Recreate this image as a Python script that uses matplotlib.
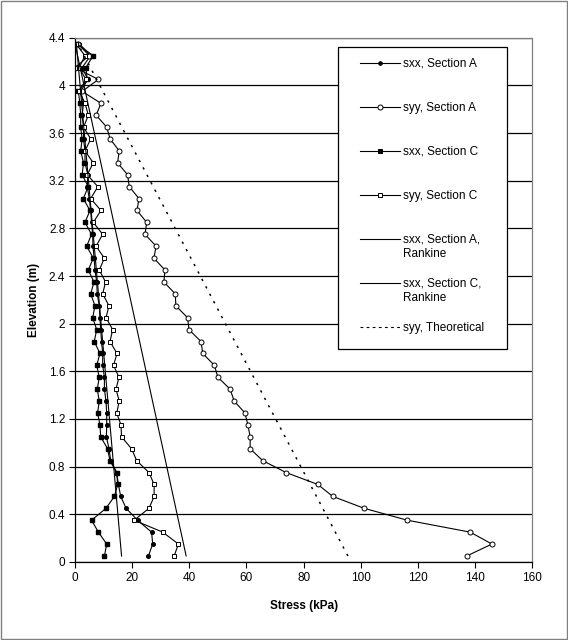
import numpy as np
import matplotlib
matplotlib.use('Agg')
import matplotlib.pyplot as plt
from matplotlib.patches import Rectangle

plt.rcParams['font.family'] = ['Liberation Sans', 'DejaVu Sans']

# elevations of the measuring points (m)
elev = [0.05, 0.15, 0.25, 0.35, 0.45, 0.55, 0.65, 0.75, 0.85, 0.95,
        1.05, 1.15, 1.25, 1.35, 1.45, 1.55, 1.65, 1.75, 1.85, 1.95,
        2.05, 2.15, 2.25, 2.35, 2.45, 2.55, 2.65, 2.75, 2.85, 2.95,
        3.05, 3.15, 3.25, 3.35, 3.45, 3.55, 3.65, 3.75, 3.85, 3.95,
        4.05, 4.15, 4.25, 4.35]

sxx_A = [25.7, 27.2, 26.8, 21.9, 17.9, 16.0, 15.2, 14.6, 12.5, 11.9,
         11.0, 11.1, 11.1, 10.85, 10.3, 10.3, 9.7, 9.7, 9.3, 9.0,
         8.75, 8.5, 7.8, 7.6, 7.0, 6.7, 6.3, 6.2, 5.8, 5.5,
         5.0, 4.3, 4.5, 3.5, 3.5, 3.0, 3.0, 2.5, 3.0, 2.0,
         4.5, 2.5, 5.5, 1.5]

syy_A = [137.1, 145.9, 138.3, 116.3, 101.2, 90.2, 85.0, 73.9, 65.7, 61.3,
         61.3, 60.5, 59.5, 55.7, 54.3, 50.0, 48.8, 44.7, 44.1, 39.9,
         39.4, 35.3, 35.1, 31.1, 31.5, 27.6, 28.4, 24.5, 25.1, 21.7,
         22.4, 19.0, 18.4, 14.9, 15.5, 12.3, 11.1, 7.4, 9.1, 2.5,
         8.2, 0.0, 5.0, 1.0]

sxx_C = [10.3, 11.1, 8.2, 5.8, 10.85, 13.8, 14.95, 14.6, 12.25, 11.4,
         9.0, 8.75, 7.9, 8.5, 7.8, 8.5, 7.6, 8.75, 6.75, 7.6,
         6.2, 7.0, 5.5, 6.65, 4.65, 6.4, 4.1, 5.8, 3.5, 5.25,
         2.9, 4.65, 2.5, 3.0, 2.0, 2.5, 2.0, 2.0, 1.7, 1.2,
         4.3, 3.8, 6.4, 0.5]

syy_C = [34.7, 36.2, 30.7, 20.7, 25.9, 27.7, 27.7, 25.9, 21.6, 19.8,
         16.3, 16.1, 14.6, 15.5, 14.35, 15.4, 13.5, 14.7, 12.25, 13.2,
         10.85, 11.9, 9.7, 10.7, 8.5, 10.3, 7.35, 9.7, 6.4, 9.1,
         5.5, 8.0, 4.3, 6.4, 3.5, 5.5, 3.0, 4.7, 3.5, 1.5,
         3.8, 1.5, 3.5, 0.3]

# straight lines (end points)
line_elev = [0.05, 4.35]
rankine_A = [16.3, 0.5]
rankine_C = [38.9, 0.0]
syy_theo = [95.5, 1.0]

labels = ['sxx, Section A', 'syy, Section A', 'sxx, Section C', 'syy, Section C',
          'sxx, Section A,\nRankine', 'sxx, Section C,\nRankine', 'syy, Theoretical']

lw = 0.8
styles = [
    dict(ls='-', marker='o', ms=2.6, mfc='black', mec='black'),
    dict(ls='-', marker='o', ms=3.6, mfc='white', mec='black', mew=0.7),
    dict(ls='-', marker='s', ms=3.0, mfc='black', mec='black'),
    dict(ls='-', marker='s', ms=3.2, mfc='white', mec='black', mew=0.7),
    dict(ls='-'),
    dict(ls='-'),
    dict(ls=(0, (1.5, 4)), lw=1.1),
]

fig = plt.figure(figsize=(5.68, 6.40), dpi=100)
ax = fig.add_axes([0.132, 0.122, 0.805, 0.819])

series = [(sxx_A, elev), (syy_A, elev), (sxx_C, elev), (syy_C, elev),
          (rankine_A, line_elev), (rankine_C, line_elev), (syy_theo, line_elev)]
for (xs, ys), st in zip(series, styles):
    kw = dict(color='black', lw=lw)
    kw.update(st)
    ax.plot(xs, ys, **kw)

ax.set_xlim(0, 160)
ax.set_ylim(0, 4.4)
ax.set_xticks(np.arange(0, 161, 20))
yt = np.arange(0, 4.41, 0.4)
ax.set_yticks(yt)
ax.set_yticklabels(['%g' % round(v, 1) for v in yt])
ax.grid(axis='y', color='black', lw=0.9)
ax.set_axisbelow(True)

ax.tick_params(direction='out', length=4, width=0.8, labelsize=8.5, pad=3)
for s in ['top', 'right']:
    ax.spines[s].set_color('#808080')
    ax.spines[s].set_linewidth(0.9)
for s in ['left', 'bottom']:
    ax.spines[s].set_linewidth(0.9)

ax.set_xlabel('Stress (kPa)', fontsize=8.5, fontweight='bold', labelpad=12)
ax.set_ylabel('Elevation (m)', fontsize=8.5, fontweight='bold', labelpad=6)

# legend box drawn like the spreadsheet one: handle level with the first text line
W, H = 457.0, 524.0
def axx(px):
    return (px - 75) / W
def axy(py):
    return (562 - py) / H

ax.add_patch(Rectangle((axx(338), axy(349)), axx(507) - axx(338), axy(47) - axy(349),
                       transform=ax.transAxes, facecolor='white', edgecolor='black',
                       lw=0.9, zorder=5, clip_on=False))
row_y = [63, 107, 151, 195, 239, 283, 327]
for lab, st, py in zip(labels, styles, row_y):
    kw = dict(color='black', lw=lw)
    kw.update(st)
    mk = kw.pop('marker', None)
    ms = kw.pop('ms', None)
    mfc = kw.pop('mfc', None)
    mec = kw.pop('mec', None)
    mew = kw.pop('mew', 0.7)
    if lab == 'syy, Theoretical':
        kw['ls'] = (0, (2.5, 3))
        kw['lw'] = 0.8
    ax.plot([axx(360), axx(400)], [axy(py), axy(py)], transform=ax.transAxes,
            clip_on=False, zorder=6, **kw)
    if mk:
        ax.plot([axx(380)], [axy(py)], transform=ax.transAxes, clip_on=False, zorder=7,
                marker=mk, ms=ms, mfc=mfc, mec=mec, mew=mew, ls='none')
    ax.text(axx(403), axy(py - 5), lab, transform=ax.transAxes, fontsize=8.5,
            va='top', ha='left', zorder=7, linespacing=1.25)

# thin grey frame round the figure
fig.patches.append(Rectangle((0.001, 0.001), 0.997, 0.997, transform=fig.transFigure,
                             fill=False, edgecolor='#808080', lw=1))

fig.savefig('out.png', dpi=100)
